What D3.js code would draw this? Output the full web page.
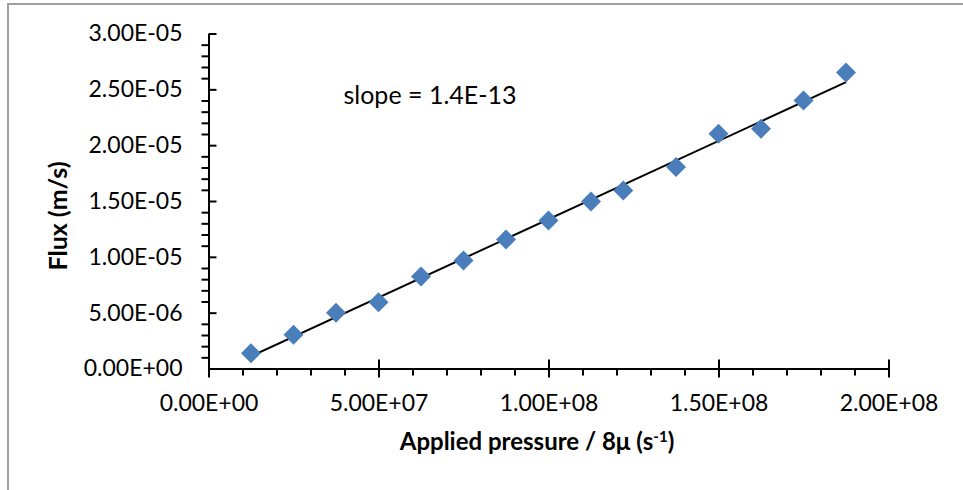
<!DOCTYPE html>
<html>
<head>
<meta charset="utf-8">
<script src="https://cdn.jsdelivr.net/npm/d3@7"></script>
<style>
  html, body { margin: 0; padding: 0; background: #fff; }
  svg { display: block; font-family: Lato, 'Open Sans', sans-serif; }
</style>
</head>
<body>
<div class="chart"></div>
<script>
// applied pressure / 8mu (s^-1)
const pressure = [1.25e7, 2.5e7, 3.75e7, 5.0e7, 6.25e7, 7.5e7, 8.75e7, 1.0e8,
  1.125e8, 1.22e8, 1.375e8, 1.5e8, 1.625e8, 1.75e8, 1.875e8];
// flux (m/s)
const flux = [1.37e-6, 3.02e-6, 4.99e-6, 5.94e-6, 8.24e-6, 9.68e-6, 11.56e-6, 13.26e-6,
  14.96e-6, 15.95e-6, 18.04e-6, 21.03e-6, 21.48e-6, 24.01e-6, 26.5e-6];

const xTicks = [0, 5e7, 1e8, 1.5e8, 2e8];
const yTicks = [0, 5e-6, 1e-5, 1.5e-5, 2e-5, 2.5e-5, 3e-5];
const slopeLabel = 'slope = 1.4E-13';

const width = 963;
const height = 490;

const svg = d3
  .select('.chart')
  .append('svg')
  .attr('width', width)
  .attr('height', height);

// chart frame (right and bottom edges fall outside the picture)
svg
  .append('rect')
  .attr('x', 8)
  .attr('y', 4)
  .attr('width', 980)
  .attr('height', 520)
  .attr('fill', 'none')
  .attr('stroke', '#a0a0a0')
  .attr('stroke-width', 2);

const x = d3.scaleLinear().domain([0, 2e8]).range([208.5, 888.5]);
const y = d3.scaleLinear().domain([0, 3e-5]).range([368.5, 33.5]);

// excel style scientific labels, e.g. 5.00E-06
const sci = (v) => {
  if (v === 0) return '0.00E+00';
  const [m, e] = v.toExponential(2).split('e');
  const n = +e;
  return `${m}E${n < 0 ? '-' : '+'}${String(Math.abs(n)).padStart(2, '0')}`;
};

const minor = (ticks, steps) => {
  const out = [];
  for (let i = 0; i < ticks.length - 1; i++) {
    const d = (ticks[i + 1] - ticks[i]) / steps;
    for (let k = 1; k < steps; k++) out.push(ticks[i] + k * d);
  }
  return out;
};

// minor ticks
svg
  .append('g')
  .attr('transform', `translate(${x(0)},0)`)
  .call(d3.axisLeft(y).tickValues(minor(yTicks, 5)).tickSize(7).tickFormat(''))
  .call((g) => g.select('.domain').remove())
  .call((g) => g.selectAll('line').attr('stroke', '#000').attr('stroke-width', 2));

svg
  .append('g')
  .attr('transform', `translate(0,${y(0)})`)
  .call(d3.axisBottom(x).tickValues(minor(xTicks, 5)).tickSize(7).tickFormat(''))
  .call((g) => g.select('.domain').remove())
  .call((g) => g.selectAll('line').attr('stroke', '#000').attr('stroke-width', 2));

// major axes
const yAxis = svg
  .append('g')
  .attr('transform', `translate(${x(0)},0)`)
  .call(d3.axisLeft(y).tickValues(yTicks).tickSize(9).tickSizeOuter(0).tickPadding(17).tickFormat(sci));
yAxis.selectAll('.tick line').attr('x2', 8);

const xAxis = svg
  .append('g')
  .attr('transform', `translate(0,${y(0)})`)
  .call(d3.axisBottom(x).tickValues(xTicks).tickSize(9).tickSizeOuter(0).tickPadding(17).tickFormat(sci));
xAxis.selectAll('.tick line').attr('y2', 9).attr('y1', -9);

svg.selectAll('.domain, .tick line').attr('stroke', '#000').attr('stroke-width', 2);
svg
  .selectAll('.tick text')
  .attr('fill', '#000')
  .attr('font-size', '23px')
  .attr('font-family', 'Lato, sans-serif');

// least squares trendline
const data = pressure.map((p, i) => ({ p, f: flux[i] }));
const mx = d3.mean(pressure);
const my = d3.mean(flux);
const slope =
  d3.sum(data, (d) => (d.p - mx) * (d.f - my)) / d3.sum(data, (d) => (d.p - mx) ** 2);
const intercept = my - slope * mx;
const ends = d3.extent(pressure);

svg
  .append('line')
  .attr('x1', x(ends[0]))
  .attr('y1', y(slope * ends[0] + intercept))
  .attr('x2', x(ends[1]))
  .attr('y2', y(slope * ends[1] + intercept))
  .attr('stroke', '#000')
  .attr('stroke-width', 2);

// diamond markers
svg
  .append('g')
  .selectAll('path')
  .data(data)
  .enter()
  .append('path')
  .attr('d', d3.symbol().type(d3.symbolSquare).size(200))
  .attr('transform', (d) => `translate(${x(d.p)},${y(d.f)}) rotate(45)`)
  .attr('fill', '#4a7ebb');

svg
  .append('text')
  .attr('x', 430)
  .attr('y', 104)
  .attr('text-anchor', 'middle')
  .attr('font-size', '25px')
  .text(slopeLabel);

// axis titles
svg
  .append('text')
  .attr('transform', 'translate(67,216) rotate(-90)')
  .attr('text-anchor', 'middle')
  .attr('font-size', '25px')
  .attr('font-weight', 'bold')
  .text('Flux (m/s)');

const xt = svg
  .append('text')
  .attr('x', 537)
  .attr('y', 450)
  .attr('text-anchor', 'middle')
  .attr('font-size', '24px')
  .attr('font-weight', 'bold');
xt.append('tspan').text('Applied pressure / 8μ (s');
xt.append('tspan').attr('dy', -8).attr('font-size', '15px').text('-1');
xt.append('tspan').attr('dy', 8).text(')');
</script>
</body>
</html>
